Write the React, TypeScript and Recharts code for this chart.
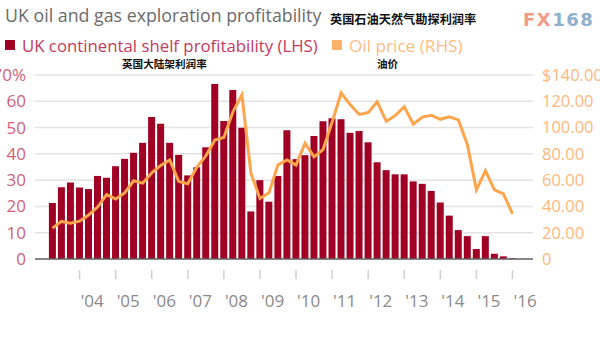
import { ComposedChart, Bar, Line, XAxis, YAxis, CartesianGrid } from "recharts";

// quarterly, 2003 Q1 .. 2015 Q4
const YEARS = [2003, 2004, 2005, 2006, 2007, 2008, 2009, 2010, 2011, 2012, 2013, 2014, 2015];
const QUARTERS = YEARS.flatMap((y) => [`${y}Q1`, `${y}Q2`, `${y}Q3`, `${y}Q4`]);

// UK continental shelf profitability, % (LHS)
const PROFIT = [
  21.3, 27.3, 29.1, 27.2, 26.6, 31.6, 30.9, 35.3, 38.1, 40.4, 44.2, 54, 51.5,
  44.2, 39.6, 31.8, 34.9, 42.5, 66.6, 52.5, 64.3, 49.9, 18.1, 30, 21.8, 31.6,
  49, 38, 39.5, 46.8, 52.4, 53.5, 53.2, 48, 48.7, 44.4, 36.8, 33.8, 32.2, 32.2,
  29.5, 28.6, 25.9, 21.5, 16.5, 11, 8.7, 3.8, 8.7, 2, 1, 0.3,
];

// Oil price, $ (RHS)
const OIL = [
  23.5, 28.6, 27.3, 28.8, 33.5, 39.5, 49, 45.7, 50.3, 59.5, 57.7, 65.5, 71.2,
  75.4, 59, 57.2, 70, 78.5, 90.6, 92.4, 112, 124.8, 65.3, 46, 50.4, 71.6, 75.4,
  71.4, 88.1, 77.7, 83.3, 104, 126.3, 117.5, 110, 111.4, 119.7, 104.7, 109.2,
  115.9, 102.6, 108, 109.4, 106.3, 108.2, 105.8, 87, 52.6, 67.2, 52.6, 49.6, 34.4,
];

// year ticks sit on the Q4 bar of the previous year
const TICK_QUARTERS = YEARS.map((y) => `${y}Q4`);
const TICK_LABELS = ["'04", "'05", "'06", "'07", "'08", "'09", "'10", "'11", "'12", "'13", "'14", "'15", "'16"];

const LEFT_TICKS = [0, 10, 20, 30, 40, 50, 60, 70];
const RIGHT_TICKS = [0, 20, 40, 60, 80, 100, 120, 140];

const data = QUARTERS.map((q, i) => ({ q, profit: PROFIT[i], oil: OIL[i] }));

const FONT = "'Open Sans', sans-serif";
const CJK = "'Noto Sans CJK SC', sans-serif";

const YearTick = ({ x, y, payload }: any) => {
  const i = TICK_QUARTERS.indexOf(payload.value);
  if (i < 0) return <g />;
  return (
    <g>
      <line x1={x} x2={x} y1={y + 11} y2={y + 20} stroke="#cfcfcf" strokeWidth={1.5} />
      <text x={x + 1} y={y + 48} textAnchor="start" fill="#8a8a8a" fontSize={17} fontFamily={FONT}>
        {TICK_LABELS[i]}
      </text>
    </g>
  );
};

export default function App() {
  return (
    <div style={{ position: "absolute", left: 0, top: 0, width: 600, height: 337, background: "#fff", overflow: "hidden" }}>
      <svg width={600} height={80} style={{ position: "absolute", left: 0, top: 0 }}>
        <text x={5} y={21.7} fontSize={17.8} fill="#6b6b6b" fontFamily={FONT}>
          UK oil and gas exploration profitability
        </text>
        <text x={330} y={23.5} fontSize={12.2} fontWeight="bold" fill="#111" fontFamily={CJK}>
          英国石油天然气勘探利润率
        </text>
        <text x={523} y={26} fontSize={18} fontWeight="bold" letterSpacing={1.5} fontFamily="'DejaVu Sans', sans-serif">
          <tspan fill="#f19a85">FX</tspan>
          <tspan fill="#8eb0cc">168</tspan>
        </text>
        <rect x={5} y={40} width={10} height={10} fill="#a00024" />
        <text x={22} y={52} fontSize={16.8} fill="#c43a5c" fontFamily={FONT}>
          UK continental shelf profitability (LHS)
        </text>
        <rect x={332} y={40} width={10} height={10} fill="#fdb26c" />
        <text x={349} y={52} fontSize={17.2} fill="#fdbd86" fontFamily={FONT}>
          Oil price (RHS)
        </text>
        <text x={122} y={67.5} fontSize={10.6} fontWeight="bold" fill="#111" fontFamily={CJK}>
          英国大陆架利润率
        </text>
        <text x={377} y={67.5} fontSize={10.6} fontWeight="bold" fill="#111" fontFamily={CJK}>
          油价
        </text>
      </svg>
      <div style={{ position: "absolute", left: 0, top: 0 }}>
        <ComposedChart
          width={600}
          height={337}
          data={data}
          margin={{ top: 75, right: 0, bottom: 18, left: 0 }}
          barCategoryGap="10%"
        >
          <CartesianGrid yAxisId="left" vertical={false} stroke="#e3e3e3" strokeWidth={1.5} />
          <XAxis
            dataKey="q"
            height={60}
            interval={0}
            tickSize={0}
            tickMargin={0}
            tickLine={false}
            axisLine={{ stroke: "#666", strokeWidth: 1.5 }}
            padding={{ left: 13, right: 16 }}
            tick={<YearTick />}
          />
          <YAxis
            yAxisId="left"
            domain={[0, 70]}
            ticks={LEFT_TICKS}
            width={35}
            axisLine={false}
            tickLine={false}
            tickSize={0}
            tickMargin={9}
            tickFormatter={(v: number) => (v === 70 ? "70%" : String(v))}
            tick={{ fill: "#d0607a", fontSize: 17, fontFamily: FONT }}
          />
          <YAxis
            yAxisId="right"
            orientation="right"
            domain={[0, 140]}
            ticks={RIGHT_TICKS}
            width={67}
            axisLine={false}
            tickLine={false}
            tickSize={0}
            tickMargin={9}
            tickFormatter={(v: number) => (v === 140 ? "$140.00" : v === 0 ? "0" : v.toFixed(2))}
            tick={{ fill: "#fdb77c", fontSize: 16.5, fontFamily: FONT, textAnchor: "start" }}
          />
          <Bar yAxisId="left" dataKey="profit" fill="#a00024" isAnimationActive={false} />
          <Line
            yAxisId="right"
            dataKey="oil"
            type="linear"
            stroke="#fca54c"
            strokeWidth={3}
            dot={false}
            isAnimationActive={false}
          />
        </ComposedChart>
      </div>
    </div>
  );
}
